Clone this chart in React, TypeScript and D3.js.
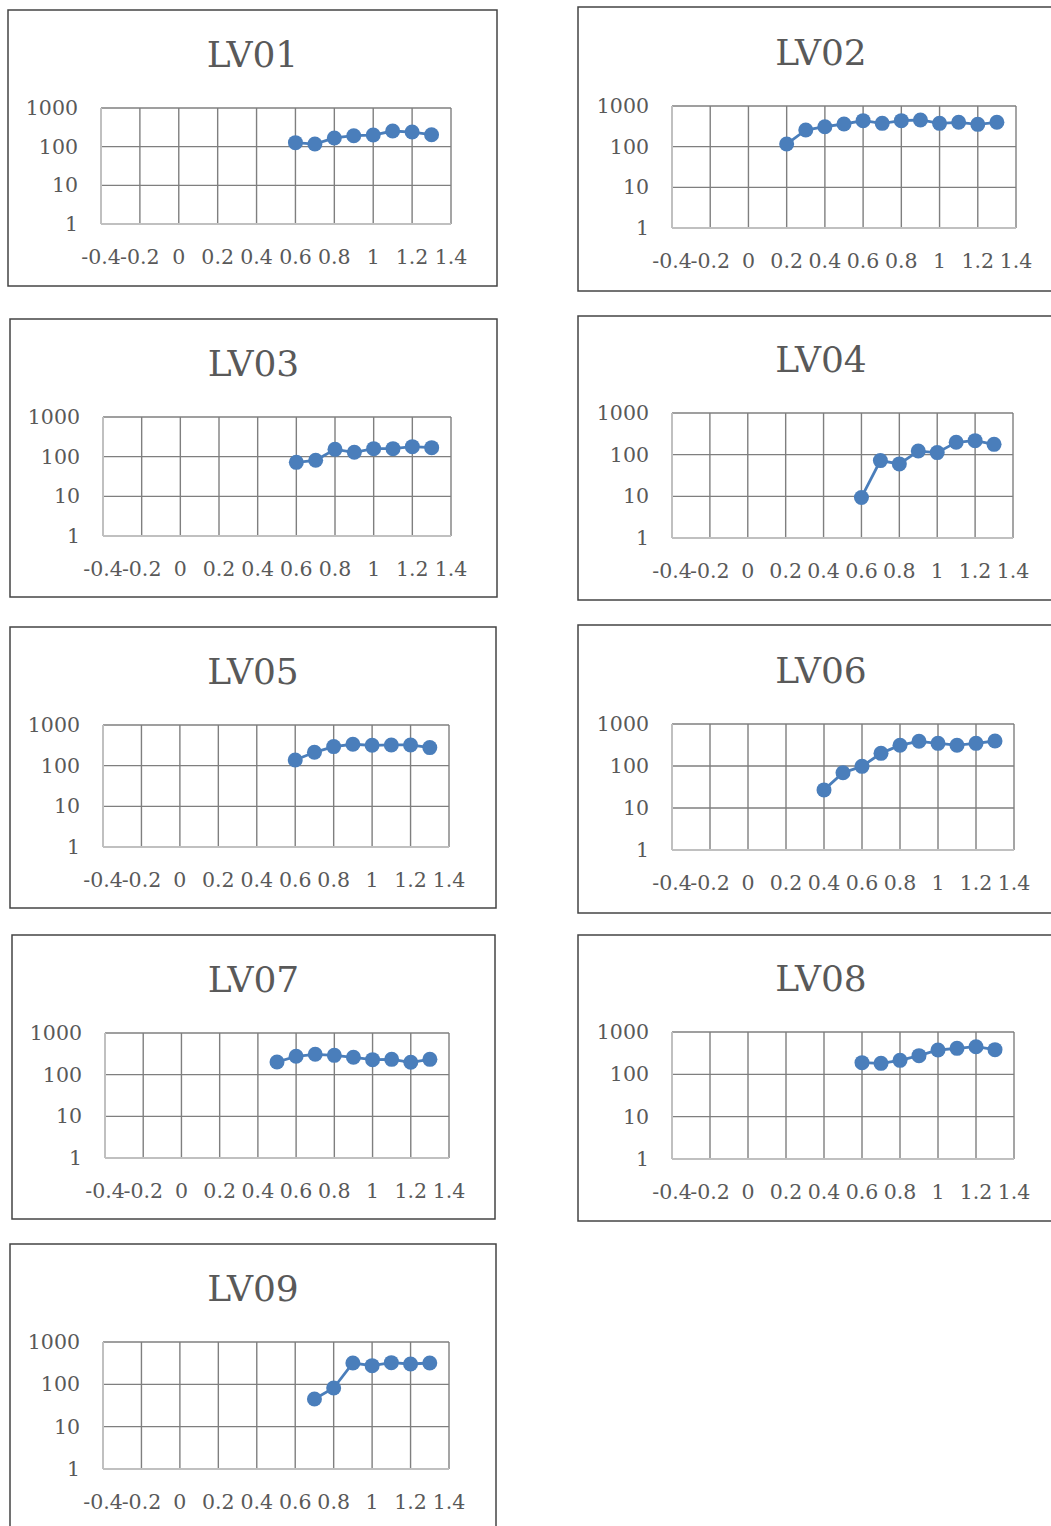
import React from "react";
import { scaleLinear, scaleLog, line } from "d3";

// x ticks / y ticks shared by every panel
const xTicks = [-0.4, -0.2, 0, 0.2, 0.4, 0.6, 0.8, 1, 1.2, 1.4];
const xTickLabels = ["-0.4", "-0.2", "0", "0.2", "0.4", "0.6", "0.8", "1", "1.2", "1.4"];
const yTicks = [1, 10, 100, 1000];
const yTickLabels = ["1", "10", "100", "1000"];

const panelNames = ["LV01", "LV02", "LV03", "LV04", "LV05", "LV06", "LV07", "LV08", "LV09"];

const lv01X = [0.6, 0.7, 0.8, 0.9, 1.0, 1.1, 1.2, 1.3];
const lv01Y = [127, 117, 168, 192, 200, 254, 239, 204];
const lv02X = [0.2, 0.3, 0.4, 0.5, 0.6, 0.7, 0.8, 0.9, 1.0, 1.1, 1.2, 1.3];
const lv02Y = [116, 257, 310, 361, 436, 375, 436, 453, 375, 397, 354, 397];
const lv03X = [0.6, 0.7, 0.8, 0.9, 1.0, 1.1, 1.2, 1.3];
const lv03Y = [72, 81, 153, 129, 159, 159, 179, 169];
const lv04X = [0.6, 0.7, 0.8, 0.9, 1.0, 1.1, 1.2, 1.3];
const lv04Y = [9.4, 72, 60, 122, 112, 198, 217, 177];
const lv05X = [0.6, 0.7, 0.8, 0.9, 1.0, 1.1, 1.2, 1.3];
const lv05Y = [138, 213, 294, 336, 317, 323, 323, 278];
const lv06X = [0.4, 0.5, 0.6, 0.7, 0.8, 0.9, 1.0, 1.1, 1.2, 1.3];
const lv06Y = [27, 69, 98, 200, 313, 387, 346, 313, 346, 394];
const lv07X = [0.5, 0.6, 0.7, 0.8, 0.9, 1.0, 1.1, 1.2, 1.3];
const lv07Y = [201, 276, 308, 291, 261, 229, 233, 198, 233];
const lv08X = [0.6, 0.7, 0.8, 0.9, 1.0, 1.1, 1.2, 1.3];
const lv08Y = [189, 182, 214, 276, 376, 411, 450, 383];
const lv09X = [0.7, 0.8, 0.9, 1.0, 1.1, 1.2, 1.3];
const lv09Y = [45, 82, 319, 276, 325, 302, 319];

const seriesX = [lv01X, lv02X, lv03X, lv04X, lv05X, lv06X, lv07X, lv08X, lv09X];
const seriesY = [lv01Y, lv02Y, lv03Y, lv04Y, lv05Y, lv06Y, lv07Y, lv08Y, lv09Y];

// page layout: outer box and plot rect for each panel
const layout = [
  { box: [8, 10, 489, 276], plot: [101, 108, 451, 224] },
  { box: [578, 7, 486, 284], plot: [672, 106, 1016, 228] },
  { box: [10, 319, 487, 278], plot: [103, 417, 451, 536] },
  { box: [578, 316, 486, 284], plot: [672, 413, 1013, 538] },
  { box: [10, 627, 486, 281], plot: [103, 725, 449, 847] },
  { box: [578, 625, 486, 288], plot: [672, 724, 1014, 850] },
  { box: [12, 935, 483, 284], plot: [105, 1033, 449, 1158] },
  { box: [578, 935, 486, 286], plot: [672, 1032, 1014, 1159] },
  { box: [10, 1244, 486, 290], plot: [103, 1342, 449, 1469] },
];

const FONT = "'DejaVu Serif', serif";
const TEXT = "#595959";
const BLUE = "#4A7EBB";

const Panel = ({ idx }: { idx: number }) => {
  const { box, plot } = layout[idx];
  const [bx, by, bw, bh] = box;
  const [l, t, r, b] = plot;
  const x = scaleLinear().domain([-0.4, 1.4]).range([l, r]);
  const y = scaleLog().domain([1, 1000]).range([b, t]);
  const pts = seriesX[idx].map((xv, i) => [xv, seriesY[idx][i]] as [number, number]);
  const path = line<[number, number]>()
    .x((d) => x(d[0]))
    .y((d) => y(d[1]))(pts);

  return (
    <g>
      <rect x={bx} y={by} width={bw} height={bh} fill="#fff" stroke="#444" strokeWidth={1.5} />
      <text
        x={bx + bw / 2}
        y={t - 41}
        textAnchor="middle"
        fontFamily={FONT}
        fontSize={36}
        fill={TEXT}
      >
        {panelNames[idx]}
      </text>
      {/* grid */}
      {yTicks.map((v) => (
        <line key={"gy" + v} x1={l} x2={r} y1={y(v)} y2={y(v)} stroke="#7f7f7f" strokeWidth={1.4} />
      ))}
      {xTicks.map((v) => (
        <line key={"gx" + v} x1={x(v)} x2={x(v)} y1={t} y2={b} stroke="#7f7f7f" strokeWidth={1.4} />
      ))}
      {/* axis lines */}
      <line x1={l} x2={l} y1={t} y2={b} stroke="#c0c0c0" strokeWidth={2} />
      <line x1={l} x2={r} y1={b} y2={b} stroke="#c0c0c0" strokeWidth={2} />
      {yTicks.map((v, i) => (
        <text
          key={"ty" + v}
          x={l - 23}
          y={y(v)}
          textAnchor="end"
          dominantBaseline="central"
          fontFamily={FONT}
          fontSize={20.5}
          fill={TEXT}
        >
          {yTickLabels[i]}
        </text>
      ))}
      {xTicks.map((v, i) => (
        <text
          key={"tx" + v}
          x={x(v)}
          y={b + 40}
          textAnchor="middle"
          fontFamily={FONT}
          fontSize={20.5}
          fill={TEXT}
        >
          {xTickLabels[i]}
        </text>
      ))}
      <path d={path || ""} fill="none" stroke={BLUE} strokeWidth={2.8} />
      {pts.map((d, i) => (
        <circle key={i} cx={x(d[0])} cy={y(d[1])} r={7.5} fill={BLUE} />
      ))}
    </g>
  );
};

export default function App() {
  return (
    <svg
      width={1051}
      height={1526}
      style={{ position: "absolute", left: 0, top: 0, background: "#fff" }}
    >
      {layout.map((_, i) => (
        <Panel key={i} idx={i} />
      ))}
    </svg>
  );
}
